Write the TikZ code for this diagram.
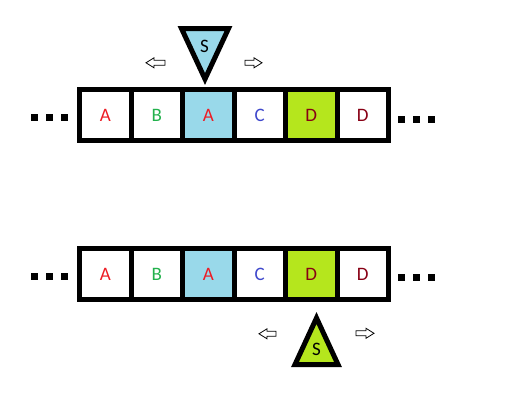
\documentclass[tikz,border=0pt]{standalone}
\usepackage{fontspec}
\setmainfont{Carlito}
\definecolor{cellblue}{RGB}{153,217,234}
\definecolor{celllime}{RGB}{181,230,29}
\definecolor{lred}{RGB}{237,28,36}
\definecolor{lgreen}{RGB}{34,177,76}
\definecolor{lblue}{RGB}{63,72,204}
\definecolor{ldred}{RGB}{136,0,21}
\begin{document}
\begin{tikzpicture}[x=1pt,y=-1pt,
  cell/.style={draw=black,line width=5pt,minimum width=51.5pt,minimum height=51pt,inner sep=0pt,outer sep=0pt,font=\fontsize{19}{19}\selectfont},
  tri/.style={draw=black,line width=5pt,line join=miter},
  dotsq/.style={fill=black,minimum size=7pt,inner sep=0pt,outer sep=0pt},
  harrow/.style={draw=black,line width=0.8pt,fill=white,line join=miter},
  slabel/.style={font=\fontsize{19}{19}\selectfont,text=black}]
\path[use as bounding box,fill=white] (0,0) rectangle (511,407);

% ---------- top tape ----------
\node[cell,text=lred]                (t1) at (105.25,115.3) {A};
\node[cell,text=lgreen]              (t2) at (156.75,115.3) {B};
\node[cell,fill=cellblue,text=lred]  (t3) at (208.25,115.3) {A};
\node[cell,text=lblue]               (t4) at (259.75,115.3) {C};
\node[cell,fill=celllime,text=ldred] (t5) at (311.25,115.3) {D};
\node[cell,text=ldred]               (t6) at (362.75,115.3) {D};

\node[dotsq] (tl1) at (34.5,117.5) {};
\node[dotsq] (tl2) at (49.5,117.5) {};
\node[dotsq] (tl3) at (64.5,117.5) {};
\node[dotsq] (tr1) at (401.5,119) {};
\node[dotsq] (tr2) at (416.5,119) {};
\node[dotsq] (tr3) at (431.5,119) {};

% top head
\coordinate (ta) at (181.5,28.5);
\coordinate (tb) at (228.5,28.5);
\coordinate (tc) at (205,79);
\draw[tri,fill=cellblue] (ta) -- (tb) -- (tc) -- cycle;
\node[slabel] (ts) at (204.5,46) {S};

\draw[harrow] (146,62.8) -- (154,57.8) -- (154,60.3) -- (165,60.3) -- (165,65.3) -- (154,65.3) -- (154,67.8) -- cycle;
\draw[harrow] (262,62.8) -- (254,57.8) -- (254,60.3) -- (245,60.3) -- (245,65.3) -- (254,65.3) -- (254,67.8) -- cycle;

% ---------- bottom tape ----------
\node[cell,text=lred]                (b1) at (105.25,274) {A};
\node[cell,text=lgreen]              (b2) at (156.75,274) {B};
\node[cell,fill=cellblue,text=lred]  (b3) at (208.25,274) {A};
\node[cell,text=lblue]               (b4) at (259.75,274) {C};
\node[cell,fill=celllime,text=ldred] (b5) at (311.25,274) {D};
\node[cell,text=ldred]               (b6) at (362.75,274) {D};

\node[dotsq] (bl1) at (34.5,276) {};
\node[dotsq] (bl2) at (49.5,276) {};
\node[dotsq] (bl3) at (64.5,276) {};
\node[dotsq] (br1) at (401.5,277.5) {};
\node[dotsq] (br2) at (416.5,277.5) {};
\node[dotsq] (br3) at (431.5,277.5) {};

% bottom head
\coordinate (ba) at (295,364.5);
\coordinate (bb) at (338,364.5);
\coordinate (bc) at (316.5,318);
\draw[tri,fill=celllime] (ba) -- (bb) -- (bc) -- cycle;
\node[slabel] (bs) at (316.5,349) {S};

\draw[harrow] (259,333.8) -- (267,328.8) -- (267,331.3) -- (276,331.3) -- (276,336.3) -- (267,336.3) -- (267,338.8) -- cycle;
\draw[harrow] (374,333.3) -- (366,328.3) -- (366,330.8) -- (356,330.8) -- (356,335.8) -- (366,335.8) -- (366,338.3) -- cycle;
\end{tikzpicture}
\end{document}
